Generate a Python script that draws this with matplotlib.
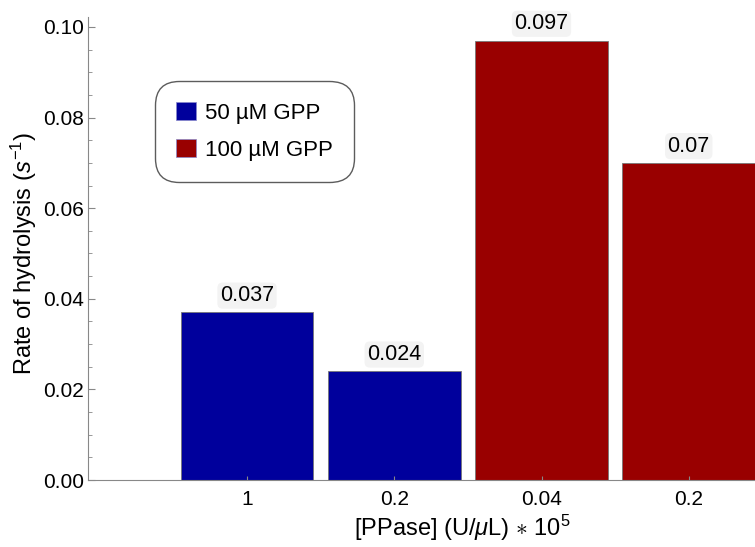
import matplotlib.pyplot as plt
import numpy as np
from matplotlib.ticker import MultipleLocator

# PPase concentration groups and measured hydrolysis rates
concentrations = ["1", "0.2", "0.04", "0.2"]
rates = [0.037, 0.024, 0.097, 0.070]
rate_labels = ["0.037", "0.024", "0.097", "0.07"]
series = ["50 µM GPP", "50 µM GPP", "100 µM GPP", "100 µM GPP"]
series_names = ["50 µM GPP", "100 µM GPP"]
series_colors = {"50 µM GPP": "#00009c", "100 µM GPP": "#990000"}

plt.rcParams['font.family'] = ['Liberation Sans', 'DejaVu Sans']
plt.rcParams['mathtext.fontset'] = 'custom'
plt.rcParams['mathtext.rm'] = 'Liberation Sans'
plt.rcParams['mathtext.it'] = 'Liberation Sans:italic'

fig = plt.figure(figsize=(7.55, 5.47), dpi=100)
ax = fig.add_axes([88 / 755, 67 / 547, 667 / 755, 463 / 547])

x = np.arange(len(rates))
colors = [series_colors[s] for s in series]
bars = ax.bar(x, rates, width=0.9, color=colors, edgecolor='#777777', linewidth=0.6)

for xi, r, lab in zip(x, rates, rate_labels):
    ax.annotate(lab, (xi, r), xytext=(0, 4.5), textcoords='offset points',
                ha='center', va='bottom', fontsize=15.5,
                bbox=dict(boxstyle='round,pad=0.12,rounding_size=0.25', fc='#f3f3f3', ec='none'))

ax.set_xlim(-1.08, 3.45)
ax.set_ylim(0, 0.1022)
ax.set_xticks(x)
ax.set_xticklabels(concentrations, fontsize=15)
ax.yaxis.set_major_locator(MultipleLocator(0.02))
ax.yaxis.set_minor_locator(MultipleLocator(0.005))
ax.yaxis.set_major_formatter(plt.FormatStrFormatter('%.2f'))
ax.tick_params(axis='y', which='major', direction='in', length=5, color='#888888', labelsize=15, pad=3)
ax.tick_params(axis='y', which='minor', direction='in', length=3, color='#888888')
ax.tick_params(axis='x', which='major', direction='in', length=3, color='#888888', pad=7)

for side in ['top', 'right']:
    ax.spines[side].set_visible(False)
for side in ['left', 'bottom']:
    ax.spines[side].set_color('#888888')
    ax.spines[side].set_linewidth(0.8)

ax.set_ylabel('Rate of hydrolysis ($s^{-1}$)', fontsize=17)
ax.set_xlabel('[PPase] (U/$\\mu$L) $\\ast$ 10$^5$', fontsize=17)
ax.yaxis.set_label_coords(-0.074, 0.49)
ax.xaxis.set_label_coords(0.561, -0.071)

handles = [plt.Rectangle((0, 0), 1, 1, fc=series_colors[n], ec='#8888cc', lw=0.5) for n in series_names]
leg = ax.legend(handles, series_names, loc='upper left', bbox_to_anchor=(0.1, 0.862),
                fontsize=16, frameon=True, fancybox=True, edgecolor='#333333',
                handlelength=0.9, handleheight=0.9, handletextpad=0.4,
                borderpad=0.95, labelspacing=0.68, borderaxespad=0)
leg.get_frame().set_linewidth(1.0)
leg.get_frame().set_boxstyle('round,pad=0,rounding_size=1.1')

fig.savefig('out.png', dpi=100)
